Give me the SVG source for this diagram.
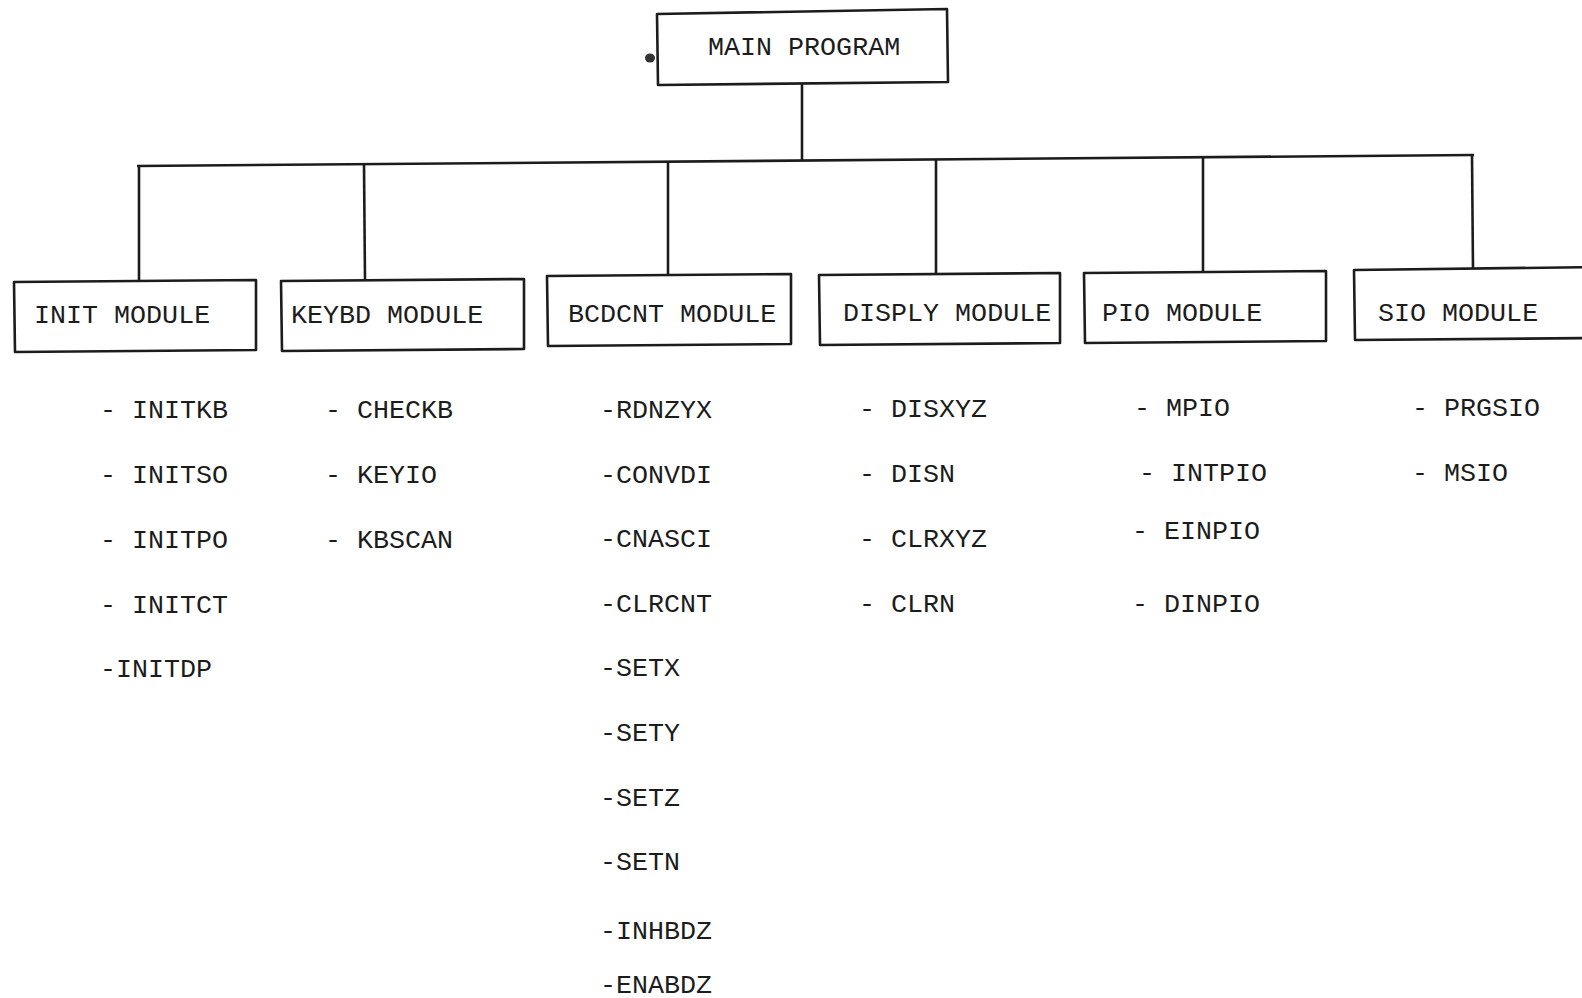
<svg xmlns="http://www.w3.org/2000/svg" width="1582" height="998" viewBox="0 0 1582 998">
<style>
.box{fill:none;stroke:#1c1c1c;stroke-width:2.6;stroke-linejoin:round}
.ln{fill:none;stroke:#1c1c1c;stroke-width:2.6;stroke-linecap:butt}
.t{font-family:"Liberation Mono","Courier New",monospace;font-size:26.7px;fill:#1c1c1c}
</style>
<rect x="0" y="0" width="1582" height="998" fill="#ffffff"/>
<g id="connectors">
<path class="ln" d="M802 84 L802 160.5"/>
<path class="ln" d="M137 166 L1474 155"/>
<path class="ln" d="M139 165.9 L139 281.5"/>
<path class="ln" d="M364 164 L365 280"/>
<path class="ln" d="M668 161.6 L668 274.5"/>
<path class="ln" d="M936 159.4 L936 273.5"/>
<path class="ln" d="M1203 157.2 L1203 272"/>
<path class="ln" d="M1472 155 L1473 269"/>
</g>
<g id="main">
<polygon class="box" points="657,14 947,9 948,82 658,85"/>
<text class="t" x="708" y="55">MAIN PROGRAM</text>
</g>
<ellipse cx="650" cy="58" rx="5" ry="4.5" fill="#333"/>
<g id="init">
<polygon class="box" points="14,282 256,280 256,350 15,352"/>
<text class="t" x="34" y="323">INIT MODULE</text>
<text class="t" x="100" y="418">- INITKB</text>
<text class="t" x="100" y="483">- INITSO</text>
<text class="t" x="100" y="548">- INITPO</text>
<text class="t" x="100" y="613">- INITCT</text>
<text class="t" x="100" y="677">-INITDP</text>
</g>
<g id="keybd">
<polygon class="box" points="281,281 524,279 524,349 282,351"/>
<text class="t" x="291" y="323">KEYBD MODULE</text>
<text class="t" x="325" y="418">- CHECKB</text>
<text class="t" x="325" y="483">- KEYIO</text>
<text class="t" x="325" y="548">- KBSCAN</text>
</g>
<g id="bcdcnt">
<polygon class="box" points="547,276 791,274 791,344 548,346"/>
<text class="t" x="568" y="322">BCDCNT MODULE</text>
<text class="t" x="600" y="418">-RDNZYX</text>
<text class="t" x="600" y="483">-CONVDI</text>
<text class="t" x="600" y="547">-CNASCI</text>
<text class="t" x="600" y="612">-CLRCNT</text>
<text class="t" x="600" y="676">-SETX</text>
<text class="t" x="600" y="741">-SETY</text>
<text class="t" x="600" y="806">-SETZ</text>
<text class="t" x="600" y="870">-SETN</text>
<text class="t" x="600" y="939">-INHBDZ</text>
<text class="t" x="600" y="993">-ENABDZ</text>
</g>
<g id="disply">
<polygon class="box" points="819,275 1060,273 1060,343 820,345"/>
<text class="t" x="843" y="321">DISPLY MODULE</text>
<text class="t" x="859" y="417">- DISXYZ</text>
<text class="t" x="859" y="482">- DISN</text>
<text class="t" x="859" y="547">- CLRXYZ</text>
<text class="t" x="859" y="612">- CLRN</text>
</g>
<g id="pio">
<polygon class="box" points="1084,273 1326,271 1326,341 1085,343"/>
<text class="t" x="1102" y="321">PIO MODULE</text>
<text class="t" x="1134" y="416">- MPIO</text>
<text class="t" x="1139" y="481">- INTPIO</text>
<text class="t" x="1132" y="539">- EINPIO</text>
<text class="t" x="1132" y="612">- DINPIO</text>
</g>
<g id="sio">
<polygon class="box" points="1354,270 1600,267 1600,338 1355,340"/>
<text class="t" x="1378" y="321">SIO MODULE</text>
<text class="t" x="1412" y="416">- PRGSIO</text>
<text class="t" x="1412" y="481">- MSIO</text>
</g>
</svg>
